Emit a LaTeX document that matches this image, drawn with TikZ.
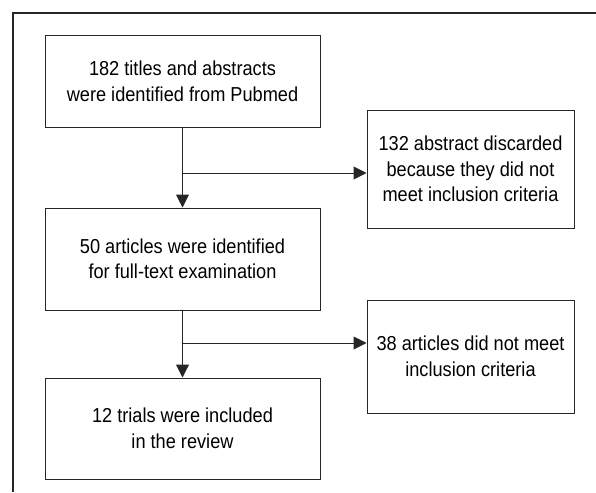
\documentclass[tikz,border=0pt]{standalone}
\usepackage{fontspec}
\setmainfont{Liberation Sans}[FakeStretch=0.9]
\usetikzlibrary{arrows.meta}
\begin{document}
\begin{tikzpicture}[x=1pt,y=-1pt,
  box/.style={draw=black!85, line width=1pt, inner sep=0pt, align=center,
    font=\fontsize{20.2}{25.5}\selectfont},
  leftbox/.style={box, minimum width=275pt, minimum height=101pt},
  sidebox/.style={box, minimum width=207pt},
  arr/.style={line width=1pt, draw=black!85, -{Triangle[length=13pt,width=13pt]}},
  ln/.style={line width=1pt, draw=black!85}]
\useasboundingbox (0,0) rectangle (596,492);
\draw[line width=1.4pt, black!85] (596,13) -- (13,13) -- (13,492);
\node[leftbox, minimum height=91pt] (b1) at (182.5,81.5) {182 titles and abstracts\\were identified from Pubmed};
\node[sidebox, minimum height=118pt] (r1) at (470.5,169) {132 abstract discarded\\because they did not\\meet inclusion criteria};
\node[leftbox, minimum height=102pt] (b2) at (182.5,259) {50 articles were identified\\for full-text examination};
\node[sidebox, minimum height=113pt] (r2) at (470.5,356.5) {38 articles did not meet\\inclusion criteria};
\node[leftbox, minimum height=101pt] (b3) at (182.5,428.5) {12 trials were included\\in the review};
\coordinate (j1) at (182.5,173);
\coordinate (j2) at (182.5,343);
\draw[arr] (b1.south) -- (b2.north);
\draw[arr] (b2.south) -- (b3.north);
\draw[arr] (j1) -- (j1 -| r1.west);
\draw[arr] (j2) -- (j2 -| r2.west);
\end{tikzpicture}
\end{document}
